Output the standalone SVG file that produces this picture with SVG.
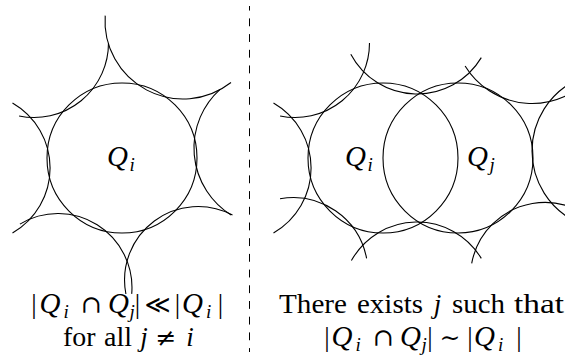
<svg xmlns="http://www.w3.org/2000/svg" width="565" height="363" viewBox="0 0 565 363">
<style>
.ln{fill:none;stroke:#000;stroke-width:1.1}
.sep{fill:none;stroke:#000;stroke-width:1;stroke-dasharray:7.85 7.85;stroke-dashoffset:3.3}
text{font-family:"Liberation Serif","DejaVu Serif",serif;fill:#000;font-size:27px}
.q{font-size:29px;font-style:italic}
.s{font-size:19px;font-style:italic}
.it{font-style:italic}
.op{font-family:"DejaVu Serif","DejaVu Sans",serif;font-size:25px}
</style>
<rect width="565" height="363" fill="#fff"/>

<g id="left-config">
  <circle id="left-Qi" class="ln" cx="122" cy="158" r="75"/>
  <path id="left-ul" class="ln" d="M19.1 116 A74.5 74.5 0 0 0 108.5 43"/>
  <path id="left-ur" class="ln" d="M105.2 15.6 A78 78 0 0 0 231 82.5"/>
  <path id="left-r" class="ln" d="M220.1 89.3 A79 79 0 0 0 231.1 215"/>
  <path id="left-lr" class="ln" d="M232.5 215.1 A73.5 73.5 0 0 0 125.9 294"/>
  <path id="left-ll" class="ln" d="M131.7 293.9 A74 74 0 0 0 19.9 224.1"/>
  <path id="left-l" class="ln" d="M12.5 233 A75 75 0 0 0 12.5 103"/>
  <text id="left-label"><tspan class="q" x="107" y="166">Q</tspan><tspan class="s" dx="1.5" dy="5">i</tspan></text>
</g>

<g id="right-config">
  <circle id="right-Qi" class="ln" cx="383" cy="158" r="75"/>
  <circle id="right-Qj" class="ln" cx="458" cy="158" r="75"/>
  <path id="right-ul" class="ln" d="M280.1 116 A74.5 74.5 0 0 0 369.5 43"/>
  <path id="right-top" class="ln" d="M350.8 54.2 A75 75 0 0 0 481.3 57.6"/>
  <path id="right-ur" class="ln" d="M465.1 66 A78.5 78.5 0 0 0 592.1 75.5"/>
  <path id="right-l" class="ln" d="M273.5 233 A75 75 0 0 0 273.5 103"/>
  <path id="right-ll" class="ln" d="M366.6 258.3 A75 75 0 0 0 280 198.7"/>
  <path id="right-bottom" class="ln" d="M481.3 258.4 A75 75 0 0 0 351.4 260.6"/>
  <path id="right-lr" class="ln" d="M609.5 239.75 A74.5 74.5 0 0 0 471.7 263.4"/>
  <path id="right-r" class="ln" d="M571.5 82.6 A79 79 0 0 0 571.5 219.4"/>
  <text id="right-label-i"><tspan class="q" x="345" y="166">Q</tspan><tspan class="s" dx="1.5" dy="5">i</tspan></text>
  <text id="right-label-j"><tspan class="q" x="467" y="166">Q</tspan><tspan class="s" dx="1.5" dy="5">j</tspan></text>
</g>

<g id="separator">
  <line class="sep" x1="249.5" y1="6" x2="249.5" y2="352"/>
</g>

<g id="left-caption">
  <text><tspan x="34" y="313" text-anchor="middle">|</tspan><tspan class="q" x="39.5" y="313">Q</tspan><tspan class="s" dx="3" dy="5">i</tspan><tspan class="op" x="91" y="313" text-anchor="middle">∩</tspan><tspan class="q" x="108" y="313">Q</tspan><tspan class="s" dx="0.5" dy="5">j</tspan><tspan x="137.5" y="313" text-anchor="middle">|</tspan><tspan class="op" x="157.5" y="313" text-anchor="middle">≪</tspan><tspan x="177.5" y="313" text-anchor="middle">|</tspan><tspan class="q" x="182" y="313">Q</tspan><tspan class="s" dx="3" dy="5">i</tspan><tspan x="220.5" y="313" text-anchor="middle">|</tspan></text>
  <text><tspan x="63" y="345.5" textLength="32.5" lengthAdjust="spacingAndGlyphs">for</tspan><tspan x="104" y="345.5" textLength="28" lengthAdjust="spacingAndGlyphs">all</tspan><tspan class="it" x="144" y="345.5" text-anchor="middle">j</tspan><tspan class="op" x="166" y="345.5" text-anchor="middle">≠</tspan><tspan class="it" x="190" y="345.5" text-anchor="middle">i</tspan></text>
</g>

<g id="right-caption">
  <text><tspan x="279" y="313" textLength="68" lengthAdjust="spacingAndGlyphs">There</tspan><tspan x="357" y="313" textLength="66" lengthAdjust="spacingAndGlyphs">exists</tspan><tspan class="it" x="437.5" y="313" text-anchor="middle">j</tspan><tspan x="452" y="313" textLength="53" lengthAdjust="spacingAndGlyphs">such</tspan><tspan x="514" y="313" textLength="50" lengthAdjust="spacingAndGlyphs">that</tspan></text>
  <text><tspan x="327" y="345.5" text-anchor="middle">|</tspan><tspan class="q" x="331.5" y="345.5">Q</tspan><tspan class="s" dx="3" dy="5">i</tspan><tspan class="op" x="383" y="345.5" text-anchor="middle">∩</tspan><tspan class="q" x="400" y="345.5">Q</tspan><tspan class="s" dx="0.5" dy="5">j</tspan><tspan x="430" y="345.5" text-anchor="middle">|</tspan><tspan class="op" x="450" y="345.5" text-anchor="middle">∼</tspan><tspan x="470" y="345.5" text-anchor="middle">|</tspan><tspan class="q" x="474" y="345.5">Q</tspan><tspan class="s" dx="3" dy="5">i</tspan><tspan x="519" y="345.5" text-anchor="middle">|</tspan></text>
</g>
</svg>
